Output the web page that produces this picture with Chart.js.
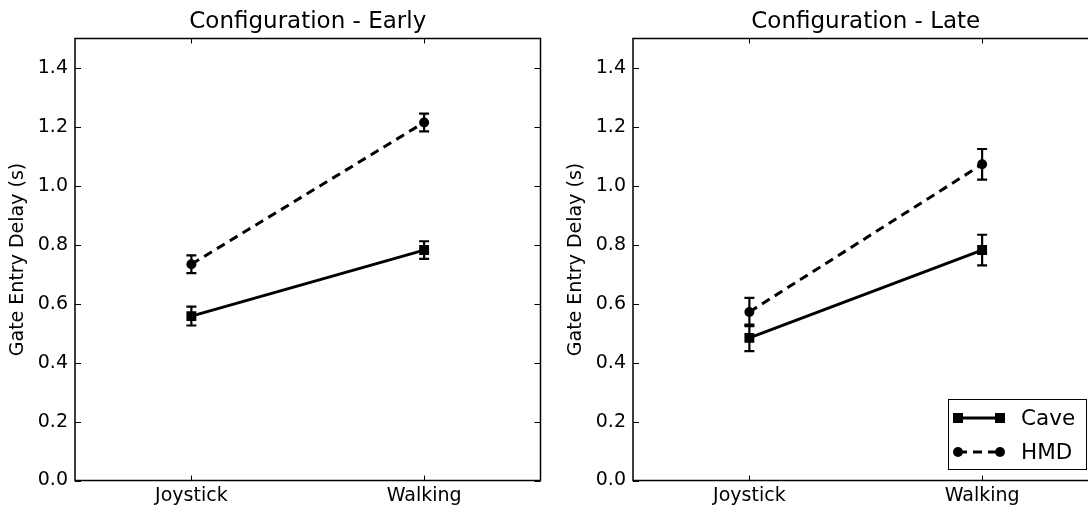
<!DOCTYPE html>
<html>
<head>
<meta charset="utf-8">
<script src="https://cdn.jsdelivr.net/npm/chart.js@4.4.1/dist/chart.umd.min.js"></script>
<style>
  html, body { margin: 0; padding: 0; background: #fff; overflow: hidden; }
  body { width: 1088px; height: 506px; position: relative; }
  canvas { position: absolute; top: 0; }
  #earlyChart { left: 0; }
  #lateChart { left: 558px; }
</style>
</head>
<body>
<canvas id="earlyChart" width="558" height="506"></canvas>
<canvas id="lateChart" width="558" height="506"></canvas>
<script>
const categories = ["Joystick", "Walking"];
const yTicks = [0, 0.2, 0.4, 0.6, 0.8, 1.0, 1.2, 1.4];

// Early configuration: means and standard errors
const earlyCave = [0.558, 0.782];
const earlyCaveErr = [0.032, 0.030];
const earlyHmd = [0.734, 1.215];
const earlyHmdErr = [0.030, 0.030];

// Late configuration
const lateCave = [0.484, 0.782];
const lateCaveErr = [0.045, 0.052];
const lateHmd = [0.572, 1.073];
const lateHmdErr = [0.048, 0.052];

const FONT = "'DejaVu Sans', sans-serif";

// whiskers with caps, drawn on top of the series
const errorBars = {
  id: "errorBars",
  afterDatasetsDraw(chart) {
    const ctx = chart.ctx;
    const y = chart.scales.y;
    ctx.save();
    ctx.strokeStyle = "#000";
    ctx.lineWidth = 2.2;
    chart.data.datasets.forEach((ds, i) => {
      const meta = chart.getDatasetMeta(i);
      meta.data.forEach((pt, j) => {
        const v = ds.data[j], e = ds.errors[j];
        const top = y.getPixelForValue(v + e);
        const bot = y.getPixelForValue(v - e);
        ctx.beginPath();
        ctx.moveTo(pt.x, top); ctx.lineTo(pt.x, bot);
        ctx.moveTo(pt.x - 5, top); ctx.lineTo(pt.x + 5, top);
        ctx.moveTo(pt.x - 5, bot); ctx.lineTo(pt.x + 5, bot);
        ctx.stroke();
      });
    });
    ctx.restore();
  }
};

// full frame plus inward ticks on all four sides
const frameTicks = {
  id: "frameTicks",
  afterDraw(chart) {
    const ctx = chart.ctx;
    const a = chart.chartArea;
    const xs = chart.scales.x, ys = chart.scales.y;
    ctx.save();
    ctx.strokeStyle = "#000";
    ctx.lineWidth = 1;
    ctx.beginPath();
    xs.ticks.forEach((t, i) => {
      const px = Math.round(xs.getPixelForTick(i)) + 0.5;
      ctx.moveTo(px, a.bottom); ctx.lineTo(px, a.bottom - 5);
      ctx.moveTo(px, a.top); ctx.lineTo(px, a.top + 5);
    });
    ys.ticks.forEach((t, i) => {
      const py = Math.round(ys.getPixelForTick(i)) + 0.5;
      ctx.moveTo(a.left, py); ctx.lineTo(a.left + 6, py);
      ctx.moveTo(a.right, py); ctx.lineTo(a.right - 6, py);
    });
    ctx.stroke();
    ctx.lineWidth = 1.5;
    ctx.strokeRect(a.left, a.top, a.right - a.left, a.bottom - a.top);
    ctx.restore();
  }
};

// boxed legend in the lower right corner, marker at both ends of the sample line
const cornerLegend = {
  id: "cornerLegend",
  afterDraw(chart) {
    if (!chart.options.plugins.cornerLegend.display) return;
    const ctx = chart.ctx;
    const a = chart.chartArea;
    const w = 138, h = 70;
    const x = a.right - 12.5 - w, y = a.bottom - 11.5 - h;
    ctx.save();
    ctx.fillStyle = "#fff";
    ctx.fillRect(x, y, w, h);
    ctx.strokeStyle = "#000";
    ctx.lineWidth = 1;
    ctx.strokeRect(x + 0.5, y + 0.5, w, h);
    chart.data.datasets.forEach((ds, i) => {
      const cy = y + 19 + i * 34;
      const x0 = x + 10, x1 = x + 52;
      ctx.strokeStyle = "#000";
      ctx.lineWidth = ds.borderWidth;
      ctx.setLineDash(ds.borderDash || []);
      ctx.beginPath();
      ctx.moveTo(x0, cy); ctx.lineTo(x1, cy);
      ctx.stroke();
      ctx.setLineDash([]);
      ctx.fillStyle = "#000";
      [x0, x1].forEach(px => {
        if (ds.pointStyle === "rect") {
          ctx.fillRect(px - 5, cy - 5, 10, 10);
        } else {
          ctx.beginPath();
          ctx.arc(px, cy, 5, 0, Math.PI * 2);
          ctx.fill();
        }
      });
      ctx.font = "21.5px " + FONT;
      ctx.textBaseline = "middle";
      ctx.fillText(ds.label, x + 73, cy + 1);
    });
    ctx.restore();
  }
};

function makeChart(id, title, cave, caveErr, hmd, hmdErr, showLegend) {
  return new Chart(document.getElementById(id), {
    type: "line",
    data: {
      labels: categories,
      datasets: [
        {
          label: "Cave",
          data: cave,
          errors: caveErr,
          borderColor: "#000",
          backgroundColor: "#000",
          borderWidth: 3,
          pointStyle: "rect",
          pointRadius: 7,
          pointBorderWidth: 0,
          tension: 0
        },
        {
          label: "HMD",
          data: hmd,
          errors: hmdErr,
          borderColor: "#000",
          backgroundColor: "#000",
          borderWidth: 3,
          borderDash: [9, 6],
          pointStyle: "circle",
          pointRadius: 5,
          pointBorderWidth: 0,
          tension: 0
        }
      ]
    },
    options: {
      responsive: false,
      animation: false,
      devicePixelRatio: 1,
      layout: { padding: { left: 0, right: 17.5, top: 0, bottom: 0 } },
      plugins: {
        legend: { display: false },
        tooltip: { enabled: false },
        cornerLegend: { display: showLegend },
        title: {
          display: true,
          text: title,
          fullSize: false,
          color: "#000",
          font: { family: FONT, size: 23, weight: "normal", lineHeight: 1.2 },
          padding: { top: 8, bottom: 2.9 }
        }
      },
      scales: {
        x: {
          type: "category",
          offset: true,
          grid: { display: false, drawTicks: false },
          border: { display: false },
          ticks: { color: "#000", padding: 4, font: { family: FONT, size: 19 } },
          afterFit(scale) { scale.height = 25.5; }
        },
        y: {
          min: 0,
          max: 1.5,
          grid: { display: false, drawTicks: false },
          border: { display: false },
          afterBuildTicks(scale) { scale.ticks = yTicks.map(v => ({ value: v })); },
          ticks: {
            color: "#000",
            padding: 7,
            font: { family: FONT, size: 19 },
            callback: v => Number(v).toFixed(1)
          },
          title: {
            display: true,
            text: "Gate Entry Delay (s)",
            color: "#000",
            font: { family: FONT, size: 19 },
            padding: { top: 7, bottom: 0 }
          },
          afterFit(scale) { scale.width = 75; }
        }
      }
    },
    plugins: [errorBars, frameTicks, cornerLegend]
  });
}

makeChart("earlyChart", "Configuration - Early", earlyCave, earlyCaveErr, earlyHmd, earlyHmdErr, false);
makeChart("lateChart", "Configuration - Late", lateCave, lateCaveErr, lateHmd, lateHmdErr, true);
</script>
</body>
</html>
